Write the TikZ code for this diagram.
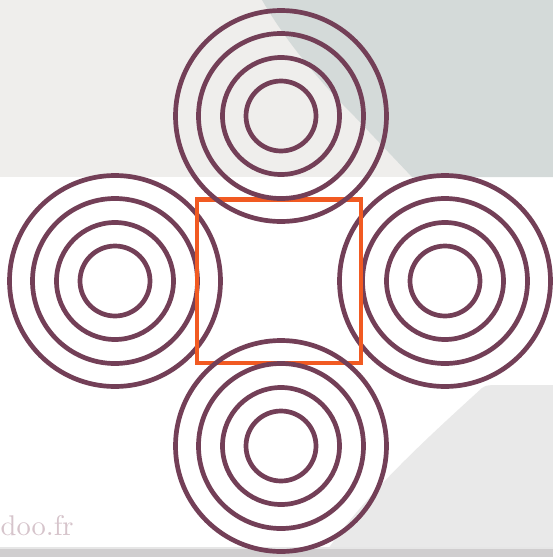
\documentclass[tikz,border=0pt]{standalone}
\usepackage{fontspec}
\definecolor{ringc}{HTML}{733F57}
\definecolor{sqc}{HTML}{F15A22}
\definecolor{bandc}{HTML}{EFEEEC}
\definecolor{slatec}{HTML}{D4DAD9}
\definecolor{floorc}{HTML}{E9E9E9}
\definecolor{stripc}{HTML}{D0CECF}
\definecolor{edgec}{HTML}{E6E6E6}
\definecolor{markc}{HTML}{D6C4CB}

\begin{document}
\begin{tikzpicture}[x=1pt,y=-1pt,line cap=round,line join=round,
    ring/.style={draw=ringc,line width=4.7pt},
    every node/.style={inner sep=0pt}]
  \def\lw{4.7pt}
  \useasboundingbox (0,0) rectangle (553,557);
  \fill[white] (0,0) rectangle (553,557);
  \fill[bandc] (0,0) rectangle (553,177);
  \fill[slatec] (262,0) .. controls (285,40) and (318,80) .. (355,117) -- (412,177) -- (553,177) -- (553,0) -- cycle;
  \fill[floorc] (494,385) -- (553,385) -- (553,549) -- (328,549) .. controls (370,490) and (425,440) .. (482,388) .. controls (486,385.5) .. (494,385) -- cycle;
  \fill[edgec] (0,546.5) rectangle (553,549);
  \fill[stripc] (0,549) rectangle (553,557);
  \node[anchor=base west,text=markc] (site) at (0.5,535) {\scalebox{2.85}{doo.fr}};
  \foreach \cx/\cy in {115/281,445/281}{
    \foreach \r in {35,58.5,82.5,105.5}
      \draw[ring] (\cx,\cy) circle[radius=\r];
  }
  \draw[sqc,line width=\lw,line join=miter] (197,199.5) rectangle (361,363);
  \foreach \cx/\cy in {281/116,281/446}{
    \foreach \r in {35,58.5,82.5,105.5}
      \draw[ring] (\cx,\cy) circle[radius=\r];
  }
\end{tikzpicture}
\end{document}
